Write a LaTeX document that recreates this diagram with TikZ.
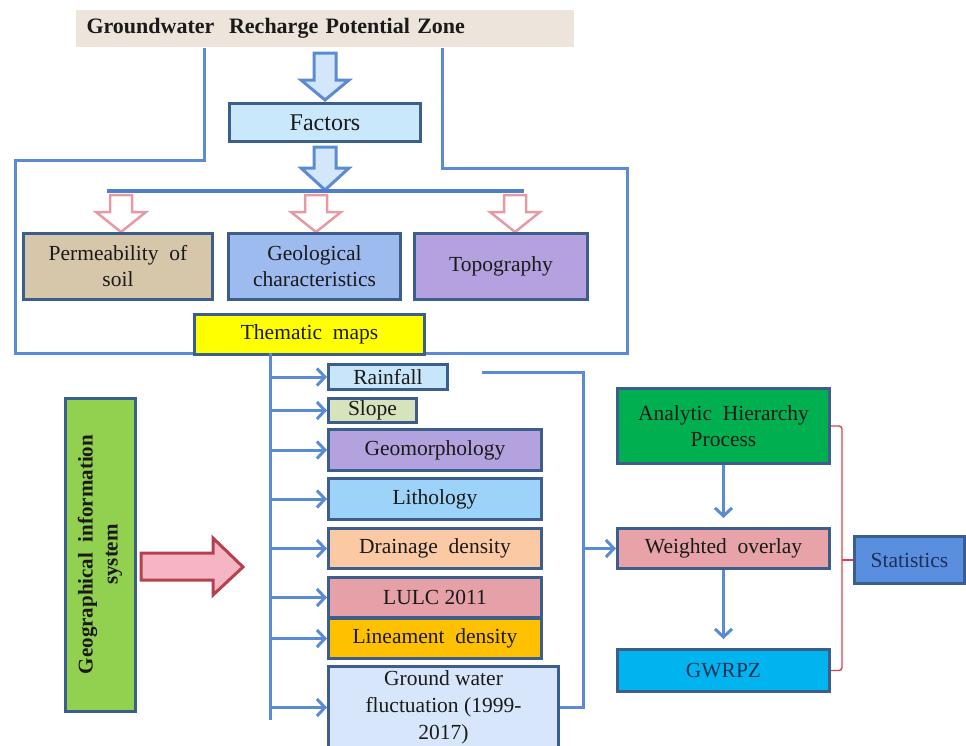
\documentclass[tikz,border=0pt]{standalone}
\usepackage{fontspec}
\setmainfont{Liberation Serif}
\usetikzlibrary{arrows.meta}

\definecolor{edgec}{HTML}{3B5E8C}
\definecolor{linec}{HTML}{5B8BD3}
\definecolor{barc}{HTML}{4F7FC9}
\definecolor{inkc}{HTML}{1A1A1A}
\definecolor{titlec}{HTML}{EDE4DC}
\definecolor{factc}{HTML}{C9E8FB}
\definecolor{permc}{HTML}{D6C6AA}
\definecolor{geoc}{HTML}{9EBBF0}
\definecolor{topoc}{HTML}{B5A1DF}
\definecolor{themc}{HTML}{FFFF00}
\definecolor{rainc}{HTML}{C7E6FA}
\definecolor{slopec}{HTML}{D6E3BC}
\definecolor{morphc}{HTML}{B3A2DE}
\definecolor{lithc}{HTML}{9DD3F8}
\definecolor{drainc}{HTML}{FCC9A5}
\definecolor{lulcc}{HTML}{E6A0A7}
\definecolor{lineac}{HTML}{FFC000}
\definecolor{flucc}{HTML}{D7E6FB}
\definecolor{gisc}{HTML}{92D050}
\definecolor{gisedge}{HTML}{B4424E}
\definecolor{gisfill}{HTML}{F5B5C5}
\definecolor{pinkedge}{HTML}{E59AA6}
\definecolor{hollowc}{HTML}{D3E6FA}
\definecolor{ahpc}{HTML}{00B050}
\definecolor{weightc}{HTML}{E8A3A8}
\definecolor{gwrpzc}{HTML}{00B4F0}
\definecolor{statc}{HTML}{5A8FE0}
\definecolor{brkc}{HTML}{E0404E}
\definecolor{navyc}{HTML}{1F2F55}

\newcommand\boxfont{\fontsize{21.5}{26}\selectfont}

\tikzset{
  box/.style={draw=edgec, line width=3pt, anchor=north west, align=center,
    inner sep=1pt, text=inkc, font=\boxfont},
  conn/.style={draw=linec, line width=3pt},
  arr/.style={conn, -{Straight Barb[length=8pt,width=17pt]}},
  bar/.style={draw=barc, line width=4pt},
  bluearrow/.style={draw=linec, fill=hollowc, line width=3pt},
  pinkarrow/.style={draw=pinkedge, fill=white, line width=2.5pt},
  gisarrow/.style={draw=gisedge, fill=gisfill, line width=3pt},
  brk/.style={draw=brkc, line width=1.4pt, rounded corners=3pt},
}

\begin{document}
\begin{tikzpicture}[x=1pt,y=-1pt]
	\useasboundingbox (0,0) rectangle (966,745);
	\clip (0,0) rectangle (966,745);
	%% Title and frame
	\node[box, draw=none, fill=titlec, minimum width=498, minimum height=37,
		text width=476, align=left, font=\bfseries\fontsize{22}{26}\selectfont]
		(title) at (74,8) {Groundwater\ \ Recharge Potential Zone};
	\draw[conn] (title.south -| 204,0) -- (204,160) -- (15,160) -- (15,353)
		-- (627,353) -- (627,168) -- (442,168) -- (title.south -| 442,0);
	% block arrows down to the factors
	\foreach \t/\n/\p in {53/80/100,147/168/190}
		\draw[bluearrow] (314,\t) -- (336,\t) -- (336,\n) -- (349,\n)
			-- (325,\p) -- (301,\n) -- (314,\n) -- cycle;
	\draw[bar] (107,191) -- (524,191);
	\foreach \c in {121,316,515}
		\draw[pinkarrow] (\c-11,195) -- (\c+11,195) -- (\c+11,212) -- (\c+25,212)
			-- (\c,232) -- (\c-25,212) -- (\c-11,212) -- cycle;
	%% Factors
	\node[box, fill=factc, minimum width=191, minimum height=38,
		font=\fontsize{24}{26}\selectfont] (factors) at (228,102) {Factors};
	\node[box, fill=permc, minimum width=189, minimum height=66] (perm) at (22,232)
		{Permeability\ \ of\\soil};
	\node[box, fill=geoc, minimum width=172, minimum height=66] (geo) at (227,232)
		{Geological\\characteristics};
	\node[box, fill=topoc, minimum width=173, minimum height=66] (topo) at (413,232)
		{Topography};
	\node[box, fill=themc, minimum width=230, minimum height=40] (thematic) at (193,313)
		{Thematic\ \ maps};
	%% Thematic layers
	\node[box, fill=rainc, minimum width=119, minimum height=25] (rain) at (327,363) {Rainfall};
	\node[box, fill=slopec, minimum width=88, minimum height=24] (slope) at (327,397) {Slope};
	\node[box, fill=morphc, minimum width=213, minimum height=41] (geomorph) at (327,428) {Geomorphology};
	\node[box, fill=lithc, minimum width=213, minimum height=41] (litho) at (327,477) {Lithology};
	\node[box, fill=drainc, minimum width=213, minimum height=40] (drain) at (327,527) {Drainage\ \ density};
	\node[box, fill=lulcc, minimum width=213, minimum height=40] (lulc) at (327,576) {LULC 2011};
	\node[box, fill=lineac, minimum width=213, minimum height=40] (linea) at (327,617) {Lineament\ \ density};
	\node[box, fill=flucc, minimum width=230, minimum height=82,
		font=\fontsize{21.5}{27}\selectfont] (fluct) at (327,665)
		{Ground water\\fluctuation (1999-\\2017)};
	\coordinate (trunktop) at (270,353);
	\coordinate (trunkbot) at (270,720);
	\draw[conn] (trunktop) -- (trunkbot);
	\foreach \n in {rain,slope,geomorph,litho,drain,lulc,linea,fluct}
		\draw[arr] (trunktop |- \n.west) -- (\n.west);
	%% GIS
	\node[box, anchor=center, fill=gisc, minimum width=313, minimum height=70, rotate=90,
		font=\bfseries\fontsize{21}{25}\selectfont] (gis) at (100,554.5)
		{Geographical\ \ information\\system};
	\draw[gisarrow] (141,553) -- (213,553) -- (213,538) -- (243,567)
		-- (213,595) -- (213,580) -- (141,580) -- cycle;
	%% Overlay
	\node[box, fill=ahpc, minimum width=212, minimum height=75] (ahp) at (616,387)
		{Analytic\ \ Hierarchy\\Process};
	\node[box, fill=weightc, minimum width=212, minimum height=40] (weighted) at (616,527)
		{Weighted\ \ overlay};
	\node[box, fill=gwrpzc, minimum width=212, minimum height=42, text=navyc] (gwrpz) at (616,648)
		{GWRPZ};
	\node[box, fill=statc, minimum width=110, minimum height=47, text=navyc] (stats) at (853,535)
		{Statistics};
	\coordinate (rainend) at (482,372);
	\coordinate (collx) at (583,0);
	\draw[conn] (rainend) -| (collx |- fluct.east) -- (fluct.east);
	\draw[arr] (collx |- weighted.west) -- (weighted.west);
	\draw[arr, shorten >=9pt] (ahp.south) -- (weighted.north);
	\draw[arr, shorten >=9pt] (weighted.south) -- (gwrpz.north);
	% bracket
	\coordinate (brx) at ([xshift=11pt]weighted.east);
	\draw[brk] (ahp.east) -| (brx) |- (gwrpz.east);
	\draw[brk] (brx |- stats.west) -- (stats.west);
\end{tikzpicture}
\end{document}
